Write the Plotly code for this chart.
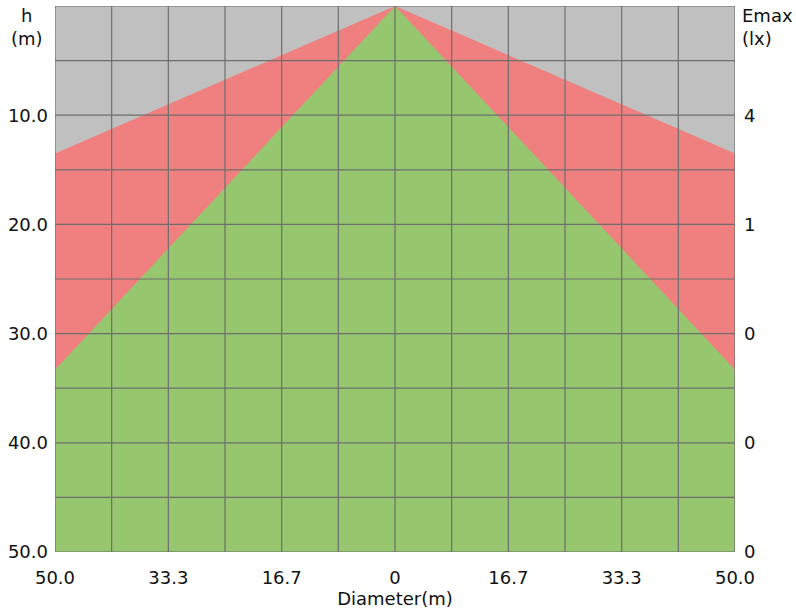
import plotly.graph_objects as go

# ---- data ----
x_range = [-50, 50]
y_range = [0, 50]
x_tick_vals = [-50, -100/3, -50/3, 0, 50/3, 100/3, 50]
x_tick_text = ["50.0", "33.3", "16.7", "0", "16.7", "33.3", "50.0"]
y_tick_vals = [10, 20, 30, 40, 50]
y_tick_text = ["10.0", "20.0", "30.0", "40.0", "50.0"]
emax_tick_text = ["4", "1", "0", "0", "0"]
red_edge_h = 13.5     # height at diameter edge for outer (red) beam
green_edge_h = 33.3   # height at diameter edge for inner (green) beam
x_grid_step = 50 / 6
y_grid_step = 5

FONT = "DejaVu Sans"
FS = 18
GRID = "#6e6e6e"

fig = go.Figure()

fig.add_trace(go.Scatter(
    x=[0, x_range[0], x_range[0], x_range[1], x_range[1], 0],
    y=[0, red_edge_h, y_range[1], y_range[1], red_edge_h, 0],
    fill="toself", fillcolor="#f08080", mode="lines", line=dict(width=0),
    hoverinfo="skip", showlegend=False))
fig.add_trace(go.Scatter(
    x=[0, x_range[0], x_range[0], x_range[1], x_range[1], 0],
    y=[0, green_edge_h, y_range[1], y_range[1], green_edge_h, 0],
    fill="toself", fillcolor="#96c66e", mode="lines", line=dict(width=0),
    hoverinfo="skip", showlegend=False))
fig.add_trace(go.Scatter(x=[0], y=[0], yaxis="y2", mode="markers",
                         marker=dict(opacity=0), hoverinfo="skip", showlegend=False))

shapes = []
n = int(round((x_range[1] - x_range[0]) / x_grid_step))
for i in range(n + 1):
    xv = x_range[0] + i * x_grid_step
    shapes.append(dict(type="line", xref="x", yref="y", x0=xv, x1=xv, y0=y_range[0], y1=y_range[1],
                       line=dict(color=GRID, width=1.2), layer="above"))
m = int(round((y_range[1] - y_range[0]) / y_grid_step))
for j in range(m + 1):
    yv = y_range[0] + j * y_grid_step
    shapes.append(dict(type="line", xref="x", yref="y", x0=x_range[0], x1=x_range[1], y0=yv, y1=yv,
                       line=dict(color=GRID, width=1.2), layer="above"))

fig.update_layout(
    width=796, height=612,
    margin=dict(l=55, r=61, t=6, b=60, autoexpand=False),
    paper_bgcolor="white", plot_bgcolor="#c0c0c0",
    font=dict(family=FONT, size=FS, color="#111111"),
    shapes=shapes,
    xaxis=dict(range=x_range, tickvals=x_tick_vals, ticktext=x_tick_text,
               showgrid=False, zeroline=False, ticks="", ticklen=0, automargin=False,
               ticklabelstandoff=13,
               title=dict(text="Diameter(m)", standoff=0, font=dict(size=FS))),
    yaxis=dict(range=[y_range[1], y_range[0]], tickvals=y_tick_vals, ticktext=y_tick_text,
               showgrid=False, zeroline=False, ticks="", ticklen=0, automargin=False,
               ticklabelstandoff=6),
    yaxis2=dict(range=[y_range[1], y_range[0]], tickvals=y_tick_vals, ticktext=emax_tick_text,
                overlaying="y", side="right", showgrid=False, zeroline=False, ticks="",
                ticklen=0, automargin=False, ticklabelstandoff=8),
    annotations=[
        dict(text="h<br>(m)", xref="paper", yref="paper", x=-0.041, y=1.006, xanchor="center",
             yanchor="top", showarrow=False, font=dict(size=FS), align="center"),
        dict(text="Emax<br>(lx)", xref="paper", yref="paper", x=1.008, y=1.006, xanchor="left",
             yanchor="top", showarrow=False, font=dict(size=FS), align="left"),
    ],
)

fig.write_html("out.html", config={"displayModeBar": False},
               post_script="document.body.style.margin='0px';document.body.style.padding='0px';")
